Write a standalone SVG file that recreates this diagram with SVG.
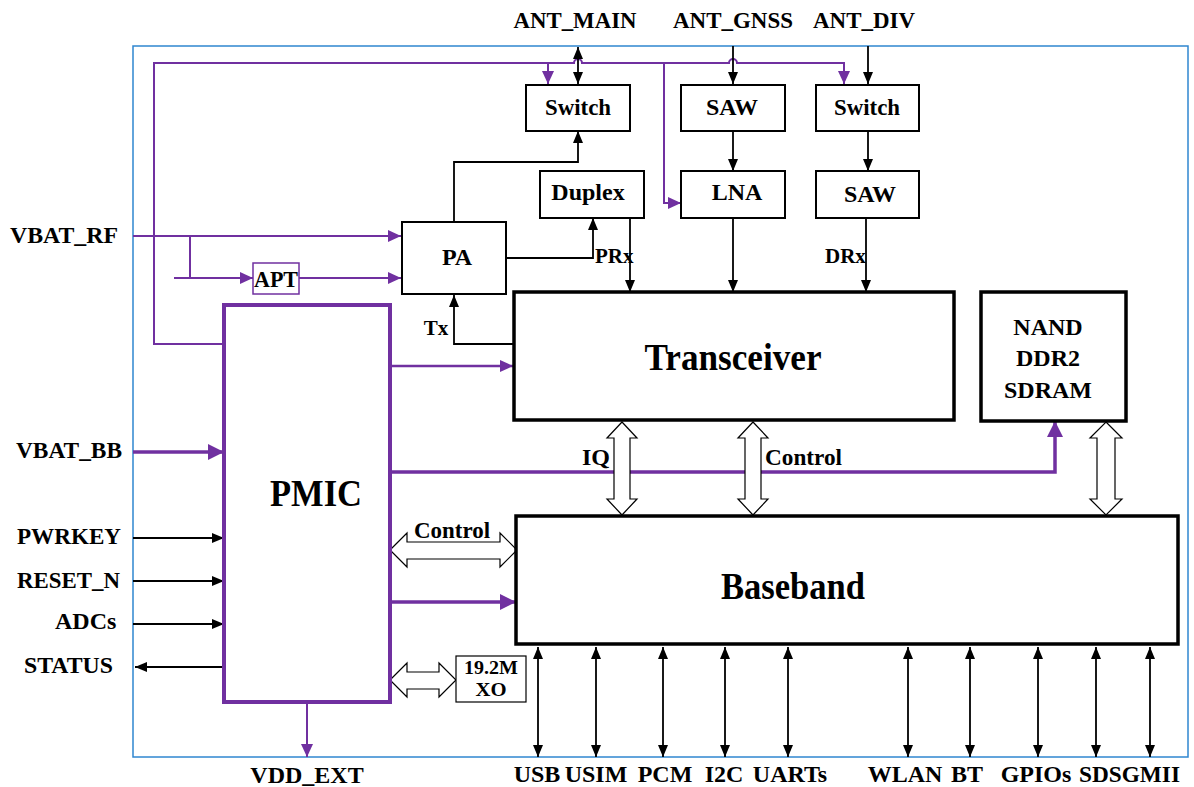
<svg xmlns="http://www.w3.org/2000/svg" width="1194" height="787" viewBox="0 0 1194 787">
<style>
text{font-family:"Liberation Serif","Times New Roman",serif;font-weight:bold;fill:#000}
.l{font-size:24px}
.s{font-size:21px}
.xs{font-size:18px}
.big{font-size:37px}
.c{text-anchor:middle}
.box{fill:#fff;stroke:#000;stroke-width:2}
.tbox{fill:#fff;stroke:#000;stroke-width:3.5}
.ln{fill:none;stroke:#000;stroke-width:1.8}
.pl{fill:none;stroke:#7030A0;stroke-width:2}
.pm{fill:none;stroke:#7030A0;stroke-width:2.6}
.pt{fill:none;stroke:#7030A0;stroke-width:3.5}
.hol{fill:#fff;stroke:#000;stroke-width:1.2;stroke-linejoin:miter}
</style>
<defs>
<marker id="ab" markerUnits="userSpaceOnUse" markerWidth="12" markerHeight="10" refX="12" refY="5" orient="auto-start-reverse"><path d="M0,0 L12,5 L0,10 z" fill="#000"/></marker>
<marker id="ap" markerUnits="userSpaceOnUse" markerWidth="13" markerHeight="12" refX="13" refY="6" orient="auto"><path d="M0,0 L13,6 L0,12 z" fill="#7030A0"/></marker>
<marker id="apt" markerUnits="userSpaceOnUse" markerWidth="16" markerHeight="16" refX="16" refY="8" orient="auto"><path d="M0,0 L16,8 L0,16 z" fill="#7030A0"/></marker>
</defs>

<rect id="frame" x="133" y="46" width="1055" height="711" fill="none" stroke="#2F86D0" stroke-width="1.5"/>

<g id="connectors">
<path class="pl" d="M224,344 H154 V63 H574 a4,4 0 0 1 8,0 H729 a4,4 0 0 1 8,0 H844 V84" marker-end="url(#ap)"/>
<path class="pl" d="M548,63 V84" marker-end="url(#ap)"/>
<path class="pl" d="M664,63 V203 H681" marker-end="url(#ap)"/>
<path class="pl" d="M133,236 H401" marker-end="url(#ap)"/>
<path class="pl" d="M190,236 V278"/>
<path class="pl" d="M174,278 H253" marker-end="url(#ap)"/>
<path class="pl" d="M299,278 H401" marker-end="url(#ap)"/>
<path class="pm" d="M390,366 H513" marker-end="url(#ap)"/>
<path class="pt" d="M133,452 H224" marker-end="url(#apt)"/>
<path class="pt" d="M390,472 H1055 V421" marker-end="url(#apt)"/>
<path class="pt" d="M390,602 H516" marker-end="url(#apt)"/>
<path class="pl" d="M307,702 V757" marker-end="url(#ap)"/>

<path class="ln" d="M578,47 V84" marker-start="url(#ab)" marker-end="url(#ab)"/>
<path class="ln" d="M733,46 V84" marker-end="url(#ab)"/>
<path class="ln" d="M868,46 V84" marker-end="url(#ab)"/>
<path class="ln" d="M733,131 V171" marker-end="url(#ab)"/>
<path class="ln" d="M868,131 V171" marker-end="url(#ab)"/>
<path class="ln" d="M454,221 V162 H578 V131" marker-end="url(#ab)"/>
<path class="ln" d="M506,258 H593 V218" marker-end="url(#ab)"/>
<path class="ln" d="M630,218 V292" marker-end="url(#ab)"/>
<path class="ln" d="M733,218 V292" marker-end="url(#ab)"/>
<path class="ln" d="M866,218 V292" marker-end="url(#ab)"/>
<path class="ln" d="M513,344 H454 V295" marker-end="url(#ab)"/>
<path class="ln" d="M133,538 H224" marker-end="url(#ab)"/>
<path class="ln" d="M133,581 H224" marker-end="url(#ab)"/>
<path class="ln" d="M133,624 H224" marker-end="url(#ab)"/>
<path class="ln" d="M224,667 H135" marker-end="url(#ab)"/>

<path class="ln" d="M538,647 V757" marker-start="url(#ab)" marker-end="url(#ab)"/>
<path class="ln" d="M596,647 V757" marker-start="url(#ab)" marker-end="url(#ab)"/>
<path class="ln" d="M663,647 V757" marker-start="url(#ab)" marker-end="url(#ab)"/>
<path class="ln" d="M725,647 V757" marker-start="url(#ab)" marker-end="url(#ab)"/>
<path class="ln" d="M788,647 V757" marker-start="url(#ab)" marker-end="url(#ab)"/>
<path class="ln" d="M908,647 V757" marker-start="url(#ab)" marker-end="url(#ab)"/>
<path class="ln" d="M970,647 V757" marker-start="url(#ab)" marker-end="url(#ab)"/>
<path class="ln" d="M1038,647 V757" marker-start="url(#ab)" marker-end="url(#ab)"/>
<path class="ln" d="M1096,647 V757" marker-start="url(#ab)" marker-end="url(#ab)"/>
<path class="ln" d="M1150,647 V757" marker-start="url(#ab)" marker-end="url(#ab)"/>

<path class="hol" d="M622,422 L637,438 L630,438 L630,499 L637,499 L622,515 L607,499 L614,499 L614,438 L607,438 Z"/>
<path class="hol" d="M753,422 L768,438 L761,438 L761,499 L768,499 L753,515 L738,499 L745,499 L745,438 L738,438 Z"/>
<path class="hol" d="M1106,422 L1122,438 L1115,438 L1115,499 L1122,499 L1106,515 L1090,499 L1097,499 L1097,438 L1090,438 Z"/>
<path class="hol" d="M390,550 L407,533 L407,542 L500,542 L500,533 L517,550 L500,567 L500,559 L407,559 L407,567 Z"/>
<path class="hol" d="M390,680 L407,663 L407,672 L439,672 L439,663 L456,680 L439,697 L439,689 L407,689 L407,697 Z"/>
</g>

<g id="switch-main"><rect class="box" x="526" y="85" width="104" height="46"/><text class="l c" x="578" y="115" textLength="66" lengthAdjust="spacingAndGlyphs">Switch</text></g>
<g id="saw-gnss"><rect class="box" x="681" y="85" width="104" height="46"/><text class="l c" x="732" y="115">SAW</text></g>
<g id="switch-div"><rect class="box" x="816" y="85" width="103" height="46"/><text class="l c" x="867" y="115" textLength="66" lengthAdjust="spacingAndGlyphs">Switch</text></g>
<g id="duplex"><rect class="box" x="540" y="171" width="104" height="47"/><text class="l c" x="588" y="200">Duplex</text></g>
<g id="lna"><rect class="box" x="681" y="171" width="104" height="47"/><text class="l c" x="737" y="200">LNA</text></g>
<g id="saw-div"><rect class="box" x="816" y="171" width="103" height="47"/><text class="l c" x="870" y="202">SAW</text></g>
<g id="pa"><rect class="box" x="402" y="222" width="104" height="72"/><text class="l c" x="457" y="265">PA</text></g>
<g id="apt"><rect x="253" y="263" width="46" height="31" fill="#fff" stroke="#7030A0" stroke-width="1.5"/><text class="l c" x="276" y="287" textLength="44" lengthAdjust="spacingAndGlyphs">APT</text></g>
<g id="transceiver"><rect class="tbox" x="514" y="292" width="440" height="128"/><text class="big c" x="733" y="370" textLength="177" lengthAdjust="spacingAndGlyphs">Transceiver</text></g>
<g id="memory"><rect class="tbox" x="981" y="292" width="145" height="129"/><text class="l c" x="1048" y="335">NAND</text><text class="l c" x="1048" y="366">DDR2</text><text class="l c" x="1048" y="398">SDRAM</text></g>
<g id="pmic"><rect x="224" y="305" width="166" height="397" fill="#fff" stroke="#7030A0" stroke-width="4"/><text class="big c" x="316" y="506" textLength="92" lengthAdjust="spacingAndGlyphs">PMIC</text></g>
<g id="baseband"><rect class="tbox" x="516" y="516" width="662" height="128"/><text class="big c" x="793" y="599" textLength="144" lengthAdjust="spacingAndGlyphs">Baseband</text></g>
<g id="xo"><rect x="456" y="656" width="70" height="46" fill="#fff" stroke="#000" stroke-width="1.2"/><text class="xs c" x="491" y="674" textLength="54" lengthAdjust="spacingAndGlyphs">19.2M</text><text class="xs c" x="491" y="696" textLength="31" lengthAdjust="spacingAndGlyphs">XO</text></g>

<g id="labels">
<text class="l c" x="575" y="28" textLength="123" lengthAdjust="spacingAndGlyphs">ANT_MAIN</text>
<text class="l c" x="733" y="28" textLength="120" lengthAdjust="spacingAndGlyphs">ANT_GNSS</text>
<text class="l c" x="864" y="28" textLength="102" lengthAdjust="spacingAndGlyphs">ANT_DIV</text>
<text class="l" x="10" y="243" textLength="108" lengthAdjust="spacingAndGlyphs">VBAT_RF</text>
<text class="l" x="16" y="458" textLength="106" lengthAdjust="spacingAndGlyphs">VBAT_BB</text>
<text class="l" x="17" y="544" textLength="104" lengthAdjust="spacingAndGlyphs">PWRKEY</text>
<text class="l" x="17" y="588" textLength="103" lengthAdjust="spacingAndGlyphs">RESET_N</text>
<text class="l" x="55" y="629">ADCs</text>
<text class="l" x="24" y="673" textLength="89" lengthAdjust="spacingAndGlyphs">STATUS</text>
<text class="s" x="595" y="263">PRx</text>
<text class="s" x="825" y="263">DRx</text>
<text class="s c" x="436" y="335">Tx</text>
<text class="l c" x="596" y="465">IQ</text>
<text class="l" x="765" y="465" textLength="77" lengthAdjust="spacingAndGlyphs">Control</text>
<text class="l c" x="452" y="538" textLength="76" lengthAdjust="spacingAndGlyphs">Control</text>
<text class="l c" x="307" y="783">VDD_EXT</text>
<text class="l c" x="537" y="782">USB</text>
<text class="l c" x="596" y="782">USIM</text>
<text class="l c" x="665" y="782">PCM</text>
<text class="l c" x="724" y="782">I2C</text>
<text class="l c" x="790" y="782">UARTs</text>
<text class="l c" x="905" y="782">WLAN</text>
<text class="l c" x="967" y="782">BT</text>
<text class="l c" x="1036" y="782">GPIOs</text>
<text class="l" x="1079" y="782" textLength="101" lengthAdjust="spacingAndGlyphs"><tspan>SD</tspan><tspan>SGMII</tspan></text>
</g>
</svg>
